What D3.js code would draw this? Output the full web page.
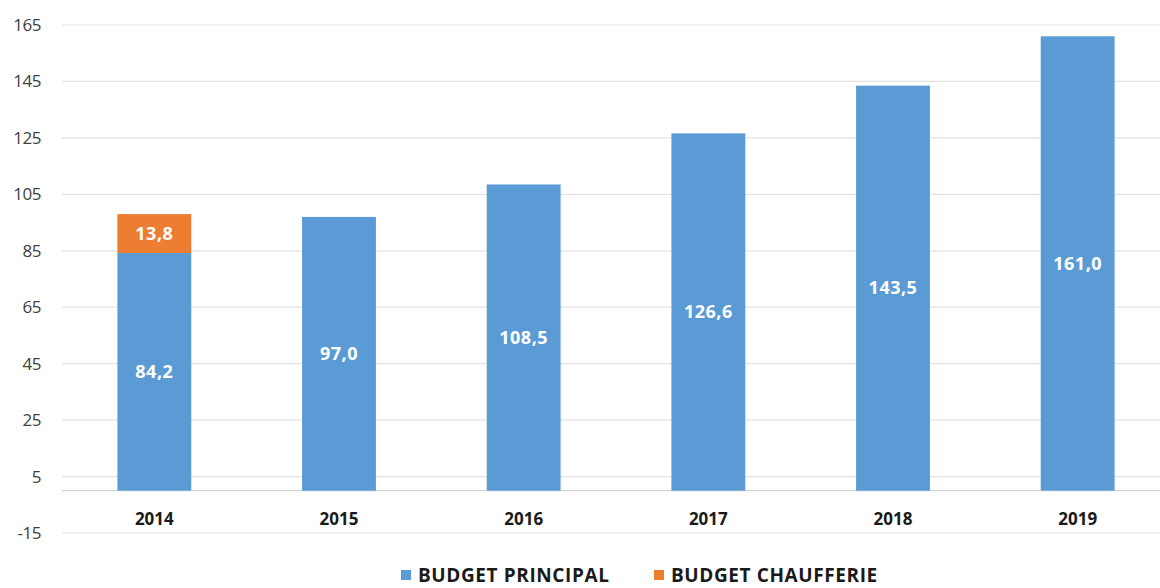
<!DOCTYPE html>
<html>
<head>
<meta charset="utf-8">
<script src="https://cdn.jsdelivr.net/npm/d3@7"></script>
<style>
  html, body { margin: 0; padding: 0; background: #fff; }
  svg { display: block; font-family: "Open Sans", Lato, sans-serif; }
</style>
</head>
<body>
<div id="chart"></div>
<script>
// ─── Data ───
const years = ['2014', '2015', '2016', '2017', '2018', '2019'];
const budgetPrincipal = [84.2, 97.0, 108.5, 126.6, 143.5, 161.0];
const budgetChaufferie = [13.8, 0, 0, 0, 0, 0];
const yTicks = [-15, 5, 25, 45, 65, 85, 105, 125, 145, 165];
const seriesNames = ['BUDGET PRINCIPAL', 'BUDGET CHAUFFERIE'];
const seriesColors = ['#5b9bd5', '#ed7d31'];

const width = 1160, height = 588;
const margin = { top: 25, right: -10, bottom: 55, left: 62 };

const svg = d3.select('#chart').append('svg')
    .attr('width', width)
    .attr('height', height);

const x = d3.scaleBand()
    .domain(years)
    .range([margin.left, width - margin.right])
    .paddingInner(0.6)
    .paddingOuter(0.3);

const y = d3.scaleLinear()
    .domain([-15, 165])
    .range([height - margin.bottom, margin.top]);

// ─── Gridlines ───
svg.append('g')
    .selectAll('line')
    .data(yTicks)
    .join('line')
    .attr('x1', margin.left)
    .attr('x2', width)
    .attr('y1', d => y(d))
    .attr('y2', d => y(d))
    .attr('stroke', '#e3e3e3')
    .attr('stroke-width', 1.2);

// zero baseline
svg.append('line')
    .attr('x1', margin.left)
    .attr('x2', width)
    .attr('y1', y(0))
    .attr('y2', y(0))
    .attr('stroke', '#d4d4d4')
    .attr('stroke-width', 1.2);

// ─── Y axis labels ───
svg.append('g')
    .selectAll('text')
    .data(yTicks)
    .join('text')
    .attr('x', 41)
    .attr('y', d => y(d))
    .attr('dy', '0.35em')
    .attr('text-anchor', 'end')
    .attr('fill', '#404040')
    .style('font-size', '17px')
    .style('letter-spacing', '-0.5px')
    .text(d => d);

// ─── Stacked bars ───
const stackData = years.map((yr, i) => ({ year: yr, p: budgetPrincipal[i], c: budgetChaufferie[i] }));
const stack = d3.stack().keys(['p', 'c'])(stackData);

const barGroups = svg.append('g')
    .selectAll('g')
    .data(stack)
    .join('g')
    .attr('fill', (d, i) => seriesColors[i]);

barGroups.selectAll('rect')
    .data(d => d.filter(s => s[1] - s[0] > 0))
    .join('rect')
    .attr('x', d => x(d.data.year))
    .attr('width', x.bandwidth())
    .attr('y', d => y(d[1]))
    .attr('height', d => y(d[0]) - y(d[1]));

// value labels
barGroups.selectAll('text')
    .data(d => d.filter(s => s[1] - s[0] > 0))
    .join('text')
    .attr('x', d => x(d.data.year) + x.bandwidth() / 2)
    .attr('y', d => y((d[0] + d[1]) / 2))
    .attr('dy', '0.35em')
    .attr('text-anchor', 'middle')
    .attr('fill', '#fff')
    .style('font-size', '18px')
    .style('font-weight', 700)
    .style('letter-spacing', '0.5px')
    .text(d => (d[1] - d[0]).toFixed(1).replace('.', ','));

// ─── X axis labels ───
svg.append('g')
    .selectAll('text')
    .data(years)
    .join('text')
    .attr('x', d => x(d) + x.bandwidth() / 2)
    .attr('y', 519)
    .attr('dy', '0.35em')
    .attr('text-anchor', 'middle')
    .attr('fill', '#1a1a1a')
    .style('font-size', '17px')
    .style('font-weight', 700)
    .text(d => d);

// ─── Legend ───
const legendX = [401, 654];
const legend = svg.append('g')
    .selectAll('g')
    .data(seriesNames)
    .join('g')
    .attr('transform', (d, i) => `translate(${legendX[i]},575)`);

legend.append('rect')
    .attr('x', 0)
    .attr('y', -5)
    .attr('width', 10)
    .attr('height', 10)
    .attr('fill', (d, i) => seriesColors[i]);

legend.append('text')
    .attr('x', 17)
    .attr('dy', '0.35em')
    .attr('fill', '#1a1a1a')
    .style('font-size', '19px')
    .style('font-weight', 700)
    .style('letter-spacing', '0.6px')
    .text(d => d);
</script>
</body>
</html>
